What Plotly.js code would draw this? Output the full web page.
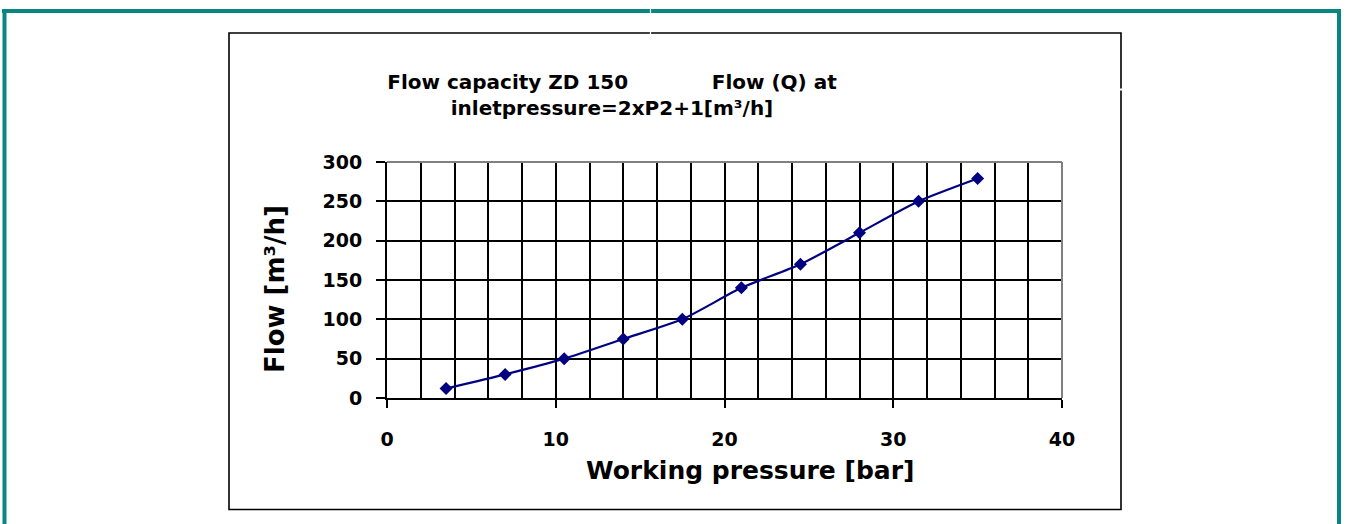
<!DOCTYPE html>
<html>
<head>
<meta charset="utf-8">
<script src="https://cdn.plot.ly/plotly-3.0.1.min.js"></script>
<style>html,body{margin:0;padding:0;background:#fff;}</style>
</head>
<body>
<div id="chart" style="width:1349px;height:524px;"></div>
<script>
// Data
const pressure = [3.5, 7, 10.5, 14, 17.5, 21, 24.5, 28, 31.5, 35];   // Working pressure [bar]
const flow     = [12, 30, 50, 75, 100, 140, 170, 210, 250, 279];     // Flow [m³/h]
const xTicks = [0, 10, 20, 30, 40];
const yTicks = [0, 50, 100, 150, 200, 250, 300];
const titleLine1a = 'Flow capacity ZD 150';
const titleLine1b = 'Flow (Q) at';
const titleLine2  = 'inletpressure=2xP2+1[m³/h]';
const xTitle = 'Working pressure [bar]';
const yTitle = 'Flow [m³/h]';

const W = 1349, H = 524;
const L = 387, R = 1062, T = 162, B = 398;   // plot area in pixels
const px = x => (x - L) / (R - L);
const py = y => (B - y) / (B - T);

const FONT = 'DejaVu Sans, Liberation Sans, Arial, sans-serif';
const NB = '\u00A0';

const trace = {
  x: pressure, y: flow, type: 'scatter', mode: 'lines+markers',
  line: {color: '#000080', width: 2.2, shape: 'spline', smoothing: 0.6},
  marker: {symbol: 'diamond', size: 10, color: '#000080'},
  hoverinfo: 'x+y', showlegend: false
};

const teal = '#0a8682';
const shapes = [
  // teal outer frame
  {type:'line', xref:'paper', yref:'paper', x0:px(2), x1:px(1341), y0:py(11), y1:py(11), line:{color:teal, width:4}},
  {type:'line', xref:'paper', yref:'paper', x0:px(4.5), x1:px(4.5), y0:py(9), y1:py(530), line:{color:teal, width:4}},
  {type:'line', xref:'paper', yref:'paper', x0:px(1339), x1:px(1339), y0:py(9), y1:py(530), line:{color:teal, width:4}},
  // inner chart box
  {type:'rect', xref:'paper', yref:'paper', x0:px(229), x1:px(1121), y0:py(33), y1:py(509.5), line:{color:'#000', width:1.6}},
  // plot area top / right border (grey)
  {type:'line', xref:'paper', yref:'paper', x0:0, x1:1, y0:1, y1:1, line:{color:'#808080', width:2}},
  {type:'line', xref:'paper', yref:'paper', x0:1, x1:1, y0:0, y1:1, line:{color:'#808080', width:2}},
  // small white scan artefacts
  {type:'line', xref:'paper', yref:'paper', x0:px(650.5), x1:px(650.5), y0:py(0), y1:py(38), line:{color:'#fff', width:1.2}},
  {type:'line', xref:'paper', yref:'paper', x0:px(1118), x1:px(1125), y0:py(89.5), y1:py(89.5), line:{color:'#fff', width:2}}
];

const annotations = [
  {text: xTitle, xref:'paper', yref:'paper', x: px(750), y: py(470), xanchor:'center', yanchor:'middle',
   showarrow:false, font:{family: FONT, size: 25, color:'#000', weight:'bold'}},
  {text: yTitle, xref:'paper', yref:'paper', x: px(275), y: py(289), xanchor:'center', yanchor:'middle',
   textangle: -90, showarrow:false, font:{family: FONT, size: 26, color:'#000', weight:'bold'}}
];

const layout = {
  width: W, height: H,
  margin: {l: L, r: W - R, t: T, b: H - B, pad: 0},
  paper_bgcolor: '#fff', plot_bgcolor: '#fff',
  showlegend: false,
  title: {
    text: titleLine1a + NB.repeat(12) + titleLine1b + '<br>' + titleLine2,
    font: {family: FONT, size: 20, color: '#000', weight: 'bold'},
    xref: 'container', yref: 'container',
    x: 612 / W, xanchor: 'center',
    y: 1 - 89 / H, yanchor: 'top'
  },
  xaxis: {
    range: [0, 40], tickvals: xTicks, ticktext: xTicks.map(String),
    ticks: 'outside', ticklen: 8, tickwidth: 2, tickcolor: '#000',
    showline: true, linecolor: '#000', linewidth: 2,
    showgrid: true, gridcolor: '#000', gridwidth: 2,
    minor: {dtick: 2, showgrid: true, gridcolor: '#000', gridwidth: 2, ticks: ''},
    zeroline: false, fixedrange: true,
    ticklabelstandoff: 15,
    tickfont: {family: FONT, size: 19, color: '#000', weight: 'bold'}
  },
  yaxis: {
    range: [0, 300], tickvals: yTicks, ticktext: yTicks.map(String),
    ticks: 'outside', ticklen: 9, tickwidth: 2, tickcolor: '#000',
    showline: true, linecolor: '#000', linewidth: 2,
    showgrid: true, gridcolor: '#000', gridwidth: 2,
    zeroline: false, fixedrange: true,
    ticklabelstandoff: 10,
    tickfont: {family: FONT, size: 19, color: '#000', weight: 'bold'}
  },
  annotations: annotations,
  shapes: shapes
};

Plotly.newPlot('chart', [trace], layout, {displayModeBar: false, staticPlot: true});
</script>
</body>
</html>
